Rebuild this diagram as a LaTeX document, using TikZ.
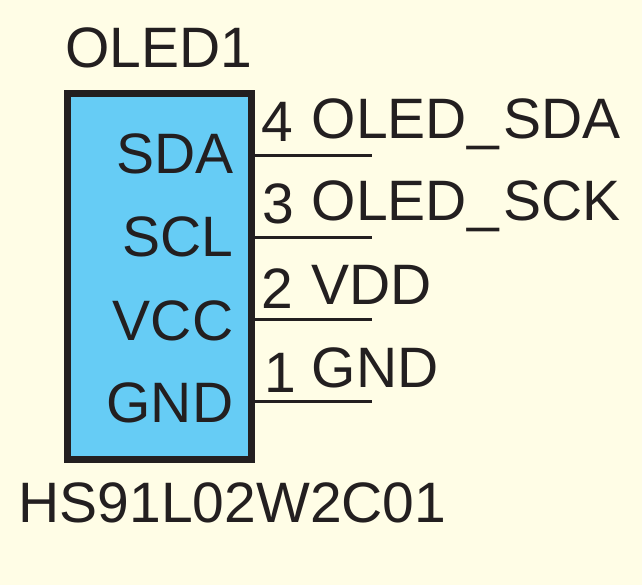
\documentclass[tikz,border=0pt]{standalone}
\usepackage{fontspec}
\setmainfont{Liberation Sans}
\definecolor{bgc}{HTML}{FFFDE6}
\definecolor{boxc}{HTML}{66CCF5}
\definecolor{ink}{HTML}{231F20}
\tikzset{x=1pt,y=-1pt,
 lbl/.style={inner sep=0pt,text=ink,font=\fontsize{57}{57}\selectfont},
 pinline/.style={draw=ink,line width=2.7pt}}
\begin{document}
\begin{tikzpicture}
\useasboundingbox (0,0) rectangle (642,585);
\fill[bgc] (0,0) rectangle (642,585);
\node[draw=ink,fill=boxc,line width=6.8pt,inner sep=0pt,outer sep=0pt,anchor=north west,minimum width=184.2pt,minimum height=366.2pt] (box) at (67.4,93.4) {};
\foreach \n/\y/\b/\t in {a/155.3/173.5/SDA,b/237.3/256.5/SCL,c/319.3/340/VCC,d/401.3/422.5/GND}{
 \coordinate (s\n) at (255,\y);
 \coordinate (e\n) at (372,\y);
 \draw[pinline] (s\n) -- (e\n);
 \node[lbl,anchor=base east] (t\n) at (233.5,\b) {\t};
}
\node[lbl,anchor=base west] (n4) at (261,142) {4};
\node[lbl,anchor=base west] (l4) at (311.5,138.5) {OLED\kern1pt\_\kern3.5pt SDA};
\node[lbl,anchor=base west] (n3) at (262,224) {3};
\node[lbl,anchor=base west] (l3) at (311.5,221) {OLED\kern1pt\_\kern3.5pt SCK};
\node[lbl,anchor=base west] (n2) at (261,308) {2};
\node[lbl,anchor=base west] (l2) at (311.5,304.5) {VDD};
\node[lbl,anchor=base west] (n1) at (264,392) {1};
\node[lbl,anchor=base west] (l1) at (311.5,387.5) {GND};
\node[lbl,anchor=base west] (ref) at (65,68) {OLED1};
\node[lbl,anchor=base west] (val) at (18.5,522) {HS91L02W2C01};
\end{tikzpicture}
\end{document}
